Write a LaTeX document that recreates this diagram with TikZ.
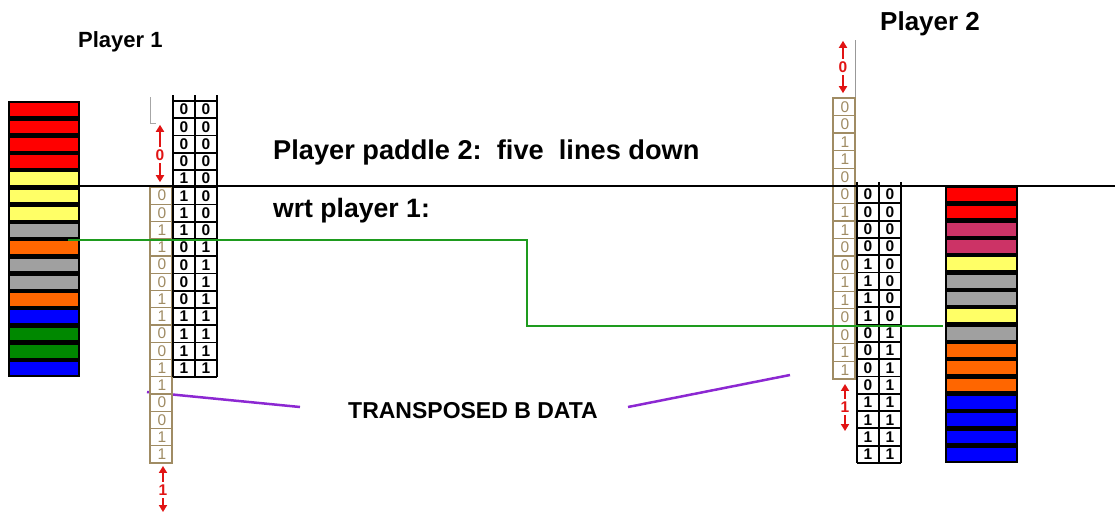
\documentclass[tikz,border=0pt]{standalone}
\usepackage{fontspec}
\setmainfont{Liberation Sans}
\definecolor{padred}{RGB}{255, 0, 0}
\definecolor{padrose}{RGB}{204, 51, 102}
\definecolor{padyellow}{RGB}{255, 255, 102}
\definecolor{padgray}{RGB}{160, 160, 160}
\definecolor{padorange}{RGB}{255, 102, 0}
\definecolor{padblue}{RGB}{0, 0, 255}
\definecolor{padgreen}{RGB}{0, 136, 0}
\definecolor{bittan}{RGB}{160, 140, 100}
\definecolor{markred}{RGB}{225, 20, 20}
\definecolor{shiftgreen}{RGB}{30, 155, 30}
\definecolor{notepurple}{RGB}{140, 40, 210}
\usetikzlibrary{arrows.meta, positioning}

\begin{document}
\begin{tikzpicture}[x=1pt, y=-1pt,
    bar/.style={draw=black, line width=2.3pt},
    gridline/.style={draw=black, line width=1.8pt},
    tancell/.style={draw=bittan, line width=1.3pt, fill=white},
    gridbit/.style={font=\fontsize{15.5}{15.5}\selectfont\bfseries, inner sep=0pt},
    tanbit/.style={font=\fontsize{15.5}{15.5}\selectfont, text=bittan, inner sep=0pt},
    redlab/.style={font=\fontsize{15.5}{15.5}\selectfont\bfseries, text=markred, inner sep=2.5pt},
    redarr/.style={-{Triangle[length=7pt, width=8pt]}, draw=markred, line width=2.4pt},
    caption/.style={font=\fontsize{#1}{#1}\selectfont\bfseries, anchor=base west, inner sep=0pt}]
    \useasboundingbox (0,0) rectangle (1115,512);

    % Titles and notes
    \node[caption=22] (title1) at (78,47) {Player 1};
    \node[caption=26] (title2) at (880,30) {Player 2};
    \node[caption=27.2] (shiftnote) at (273,159) {Player paddle 2:\ \ five\ \ lines down};
    \node[caption=26.6] (wrtnote) at (273,217) {wrt player 1:};
    \node[caption=23] (datanote) at (348,418) {TRANSPOSED B DATA};

    % Paddle stacks
    \foreach \c [count=\i from 0] in {padred,padred,padred,padred,padyellow,padyellow,padyellow,padgray,padorange,padgray,padgray,padorange,padblue,padgreen,padgreen,padblue}
        \draw[bar, fill=\c] (9,{101+\i*17.25+1.1}) rectangle (79,{101+(\i+1)*17.25-1.1});
    \foreach \c [count=\i from 0] in {padred,padred,padrose,padrose,padyellow,padgray,padgray,padyellow,padgray,padorange,padorange,padorange,padblue,padblue,padblue,padblue}
        \draw[bar, fill=\c] (946,{186+\i*17.31+1.1}) rectangle (1017,{186+(\i+1)*17.31-1.1});

    % Pointers to the transposed data
    \coordinate (noteL1) at (147,392);
    \coordinate (noteL2) at (300,407);
    \coordinate (noteR1) at (628,407);
    \coordinate (noteR2) at (790,375);
    \draw[notepurple, line width=2.5pt] (noteL1) -- (noteL2);
    \draw[notepurple, line width=2.5pt] (noteR1) -- (noteR2);

    % Transposed B columns
    \draw[gray!70, line width=1pt] (150,97) -- (150,123) -- (156,123);
    \draw[gray!80, line width=1pt] (855,40) -- (855,98);
    \foreach \b [count=\i from 0] in {0,0,1,1,0,0,1,1,0,0,1,1,0,0,1,1} {
        \draw[tancell] (150,{187+\i*17.25}) rectangle (172,{187+(\i+1)*17.25});
        \node[tanbit] (tanL-\i) at (162,{187+(\i+0.5)*17.25}) {\b};
        \draw[tancell] (833,{98+\i*17.56}) rectangle (855,{98+(\i+1)*17.56});
        \node[tanbit] (tanR-\i) at (845,{98+(\i+0.5)*17.56}) {\b};
    }

    % Paddle bit grids
    \foreach \l/\r [count=\i from 0] in {0/0,0/0,0/0,0/0,1/0,1/0,1/0,1/0,0/1,0/1,0/1,0/1,1/1,1/1,1/1,1/1} {
        \node[gridbit] (gridL-\i-a) at (184,{101+(\i+0.5)*17.25}) {\l};
        \node[gridbit] (gridL-\i-b) at (206,{101+(\i+0.5)*17.25}) {\r};
        \node[gridbit] (gridR-\i-a) at (868,{186+(\i+0.5)*17.31}) {\l};
        \node[gridbit] (gridR-\i-b) at (890,{186+(\i+0.5)*17.31}) {\r};
    }
    \foreach \i in {0,...,16} {
        \draw[gridline] (173,{101+\i*17.25}) -- (217,{101+\i*17.25});
        \draw[gridline] (857,{186+\i*17.31}) -- (901,{186+\i*17.31});
    }
    \foreach \x in {173,195,217}
        \draw[gridline] (\x,95) -- (\x,377);
    \foreach \x in {857,879,901}
        \draw[gridline] (\x,182) -- (\x,463);

    % Red shift markers
    \node[redlab] (zeroL) at (160,155) {0};
    \draw[redarr] (zeroL.north) -- ++(0,-22);
    \draw[redarr] (zeroL.south) -- ++(0,19);
    \node[redlab] (oneL) at (163,490) {1};
    \draw[redarr] (oneL.north) -- ++(0,-16);
    \draw[redarr] (oneL.south) -- ++(0,14);
    \node[redlab] (zeroR) at (843,67) {0};
    \draw[redarr] (zeroR.north) -- ++(0,-18);
    \draw[redarr] (zeroR.south) -- ++(0,18);
    \node[redlab] (oneR) at (845,407) {1};
    \draw[redarr] (oneR.north) -- ++(0,-15);
    \draw[redarr] (oneR.south) -- ++(0,16);

    % Alignment lines
    \coordinate (topL) at (80,186);
    \coordinate (topR) at (1115,186);
    \draw[black, line width=1.8pt] (topL) -- (topR);
    \coordinate (shiftL) at (68,240);
    \coordinate (shiftDrop) at (527,326);
    \coordinate (shiftR) at (943,326);
    \draw[shiftgreen, line width=2.4pt] (shiftL) -| (shiftDrop) -- (shiftR);
\end{tikzpicture}
\end{document}
